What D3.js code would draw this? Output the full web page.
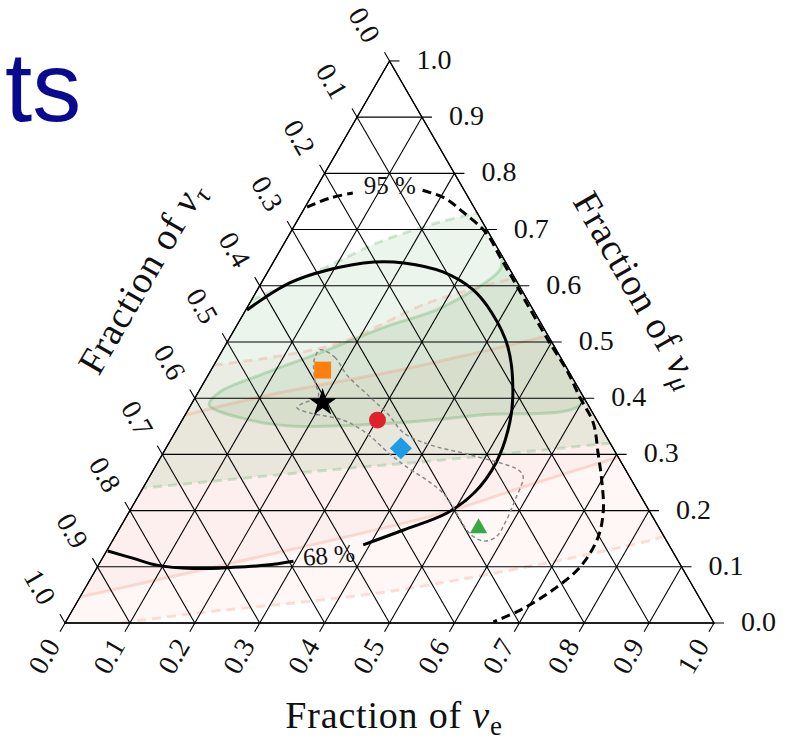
<!DOCTYPE html>
<html><head><meta charset="utf-8">
<script src="https://cdn.jsdelivr.net/npm/d3@7"></script>
<style>body{margin:0;background:#fff}svg{display:block}</style>
</head><body>
<svg id="chart" width="795" height="743"></svg>
<script>
// ---------- data (ternary coordinates as [fraction nu_e, fraction nu_mu]) ----------
const tickValues = [0,0.1,0.2,0.3,0.4,0.5,0.6,0.7,0.8,0.9,1.0];
const tickLabels = ["0.0","0.1","0.2","0.3","0.4","0.5","0.6","0.7","0.8","0.9","1.0"];

const contour68Left = [[0.002,0.128],[0.048,0.115],[0.090,0.103],[0.149,0.097],[0.210,0.099],[0.259,0.103],[0.297,0.110]];
const contour68Right = [[0.390,0.139],[0.438,0.165],[0.4908,0.1957],[0.5152,0.2331],[0.5217,0.2847],[0.511,0.3434],[0.489,0.402],[0.437,0.491],[0.382,0.5516],[0.332,0.593],[0.270,0.6246],[0.202,0.6406],[0.155,0.6423],[0.0912,0.628],[0.0436,0.605],[0.002,0.557]];
const contour95Left = [[0.003,0.740],[0.030,0.756],[0.061,0.765]];
const contour95Right = [[0.166,0.770],[0.207,0.756],[0.248,0.731],[0.302,0.694],[0.347,0.649],[0.396,0.600],[0.492,0.504],[0.548,0.450],[0.594,0.400],[0.636,0.356],[0.671,0.301],[0.700,0.254],[0.729,0.201],[0.745,0.153],[0.744,0.100],[0.7225,0.059],[0.690,0.023],[0.659,0.002]];

const green95Upper = [[0.0,0.575],[0.079,0.628],[0.146,0.678],[0.221,0.7135],[0.2705,0.7295]];
const green95Lower = [[0.680,0.320],[0.437,0.290],[0.269,0.272],[0.0,0.240]];
const green68Loop = [[0.028,0.388],[0.1045,0.361],[0.1715,0.3505],[0.308,0.354],[0.454,0.370],[0.603,0.397],[0.351,0.649],[0.356,0.628],[0.301,0.562],[0.230,0.527],[0.162,0.486],[0.080,0.441],[0.033,0.411]];
const pink68Upper = [[0.0,0.370],[0.113,0.406],[0.291,0.450],[0.398,0.482],[0.489,0.511]];
const pink68Lower = [[0.705,0.295],[0.594,0.246],[0.485,0.196],[0.2055,0.107],[0.0,0.046]];
const pink95Upper = [[0.0,0.459],[0.166,0.495],[0.277,0.571],[0.386,0.614]];
const pink95Lower = [[0.845,0.155],[0.832,0.148],[0.487,0.059],[0.199,0.018],[0.085,0.0]];

const regionOutline = [[0.150,0.486],[0.179,0.473],[0.214,0.441],[0.269,0.402],[0.314,0.370],[0.353,0.338],[0.404,0.317],[0.475,0.299],[0.563,0.272],[0.576,0.260],[0.584,0.219],[0.589,0.178],[0.5875,0.153],[0.573,0.146],[0.547,0.157],[0.467,0.231],[0.382,0.281],[0.348,0.302],[0.295,0.338],[0.248,0.361],[0.189,0.374],[0.166,0.383],[0.171,0.391],[0.189,0.402],[0.169,0.432],[0.150,0.468]];

const markerPoints = [[0.172,0.450],[0.201,0.392],[0.301,0.361],[0.362,0.311],[0.553,0.1685]];
const markerShapes = ["square","star","circle","diamond","triangle"];
const markerColors = ["#ff7f0e","#000000","#e0202a","#1e9be6","#3aa845"];
const markerSizes = [285,240,225,245,130];

const label68 = {text:"68 %", at:[0.346,0.121]};
const label95 = {text:"95 %", at:[0.111,0.779]};

// ---------- geometry through D3 scales ----------
const left = 65, right = 714, base = 623;
const side = right - left, triH = side * Math.sqrt(3) / 2;
const xE = d3.scaleLinear().domain([0,1]).range([left, right]);
const yMu = d3.scaleLinear().domain([0,1]).range([base, base - triH]);
const xShift = d3.scaleLinear().domain([0,1]).range([0, side / 2]);
const proj = d => [xE(d[0]) + xShift(d[1]), yMu(d[1])];

const svg = d3.select("#chart");
const serif = "'Liberation Serif','Times New Roman',serif";

// title fragment
svg.append("text").attr("x", 5).attr("y", 121)
  .attr("font-family", "'Liberation Sans',Arial,sans-serif").attr("font-size", 98)
  .attr("fill", "#0a0a90").text("ts");

const tri = [proj([0,0]), proj([1,0]), proj([0,1])];
svg.append("defs").append("clipPath").attr("id","triClip")
  .append("path").attr("d", "M" + tri.map(p => p.join(",")).join("L") + "Z");

const smooth = d3.line().x(d => proj(d)[0]).y(d => proj(d)[1]).curve(d3.curveCatmullRom.alpha(0.5));
const smoothClosed = d3.line().x(d => proj(d)[0]).y(d => proj(d)[1]).curve(d3.curveCatmullRomClosed.alpha(0.5));
const bandPath = (upper, lower, extra) => {
  let d = smooth(upper) + "L" + smooth(lower).slice(1);
  if (extra) extra.forEach(p => { d += "L" + proj(p).join(","); });
  return d + "Z";
};

const shade = svg.append("g").attr("clip-path", "url(#triClip)");
const pinkFill = "rgba(238,120,100,0.06)", greenFill = "rgba(70,165,80,0.11)";
shade.append("path").attr("d", bandPath(pink95Upper, pink95Lower, [[0,0]])).attr("fill", pinkFill);
shade.append("path").attr("d", bandPath(pink68Upper, pink68Lower)).attr("fill", pinkFill);
shade.append("path").attr("d", bandPath(green95Upper, green95Lower)).attr("fill", greenFill);
shade.append("path").attr("d", smoothClosed(green68Loop)).attr("fill", greenFill);
// faint boundary lines
[[pink95Upper,true],[pink95Lower,true],[pink68Upper,false],[pink68Lower,false]].forEach(([l,dash]) => {
  shade.append("path").attr("d", smooth(l)).attr("fill","none")
    .attr("stroke","rgba(238,130,105,0.25)").attr("stroke-width",3)
    .attr("stroke-dasharray", dash ? "9,6" : null);
});
[[green95Upper,true],[green95Lower,true]].forEach(([l,dash]) => {
  shade.append("path").attr("d", smooth(l)).attr("fill","none")
    .attr("stroke","rgba(80,170,90,0.26)").attr("stroke-width",3)
    .attr("stroke-dasharray", dash ? "9,6" : null);
});
shade.append("path").attr("d", smoothClosed(green68Loop)).attr("fill","none")
  .attr("stroke","rgba(80,170,90,0.30)").attr("stroke-width",3);

// ---------- grid + ticks ----------
const grid = svg.append("g").attr("stroke","#000").attr("stroke-width",1.1).attr("fill","none");
const tickLen = 10;
const seg = (a, b) => grid.append("line").attr("x1",a[0]).attr("y1",a[1]).attr("x2",b[0]).attr("y2",b[1]);
tickValues.forEach(v => {
  const r = proj([1 - v, v]);
  seg(proj([0, v]), [r[0] + tickLen, r[1]]);
  const b = proj([v, 0]);
  seg([b[0] - tickLen * 0.5, b[1] + tickLen * Math.sqrt(3) / 2], proj([v, 1 - v]));
  const l = proj([0, 1 - v]);
  seg([l[0] - tickLen * 0.5, l[1] - tickLen * Math.sqrt(3) / 2], proj([1 - v, 0]));
});
svg.append("path").attr("d", "M" + tri.map(p => p.join(",")).join("L") + "Z")
  .attr("fill","none").attr("stroke","#000").attr("stroke-width",1.3);

// tick labels
const lab = svg.append("g").attr("font-family", serif).attr("font-size", 28).attr("fill","#111");
tickValues.forEach((v, i) => {
  const r = proj([1 - v, v]);
  lab.append("text").attr("x", r[0] + 27).attr("y", r[1] + 8).text(tickLabels[i]);
  const b = proj([v, 0]);
  lab.append("text").attr("transform", `translate(${b[0] - 21},${b[1] + 33}) rotate(-60)`)
    .attr("text-anchor","middle").attr("dominant-baseline","central").text(tickLabels[i]);
  const l = proj([0, 1 - v]);
  lab.append("text").attr("transform", `translate(${l[0] - 25},${l[1] - 36}) rotate(60)`)
    .attr("text-anchor","middle").attr("dominant-baseline","central").text(tickLabels[i]);
});

// axis titles
function title(cx, cy, rot, sub, subItalic) {
  const t = svg.append("text").attr("transform", `translate(${cx},${cy}) rotate(${rot})`)
    .attr("font-family", serif).attr("font-size", 38).attr("letter-spacing", 0.8).attr("fill","#111")
    .attr("text-anchor","middle").attr("y", 12);
  t.append("tspan").text("Fraction of ");
  t.append("tspan").attr("font-style","italic").text("\u03BD");
  t.append("tspan").attr("font-size", 27).attr("dy", 7).attr("font-style", subItalic ? "italic" : "normal").text(sub);
}
title(394, 716, 0, "e", false);
title(142, 278, -60, "\u03C4", true);
title(637, 290, 60, "\u03BC", true);

// ---------- confidence contours ----------
const cont = svg.append("g").attr("fill","none").attr("stroke","#000").attr("stroke-width",3);
cont.append("path").attr("d", smooth(contour68Left));
cont.append("path").attr("d", smooth(contour68Right));
cont.append("path").attr("d", smooth(contour95Left)).attr("stroke-dasharray","9,5");
cont.append("path").attr("d", smooth(contour95Right)).attr("stroke-dasharray","9,5");

[label68, label95].forEach((L, i) => {
  const p = proj(L.at);
  svg.append("text").attr("transform", `translate(${p[0]},${p[1]}) rotate(${i === 0 ? -5 : 0})`)
    .attr("text-anchor","middle").attr("dominant-baseline","central")
    .attr("font-family", serif).attr("font-size", 25).attr("fill","#111").text(L.text);
});

// grey dashed region
svg.append("path").attr("d", smoothClosed(regionOutline)).attr("fill","none")
  .attr("stroke","#8a8a8a").attr("stroke-width",1.5).attr("stroke-dasharray","4,3");

// ---------- markers ----------
const symType = {square: d3.symbolSquare, star: d3.symbolStar, circle: d3.symbolCircle, diamond: d3.symbolSquare, triangle: d3.symbolTriangle};
markerPoints.forEach((d, i) => {
  const p = proj(d);
  svg.append("path")
    .attr("d", d3.symbol().type(symType[markerShapes[i]]).size(markerSizes[i])())
    .attr("transform", `translate(${p[0]},${p[1]})` + (markerShapes[i] === "diamond" ? " rotate(45)" : ""))
    .attr("fill", markerColors[i]);
});
</script>
</body></html>
